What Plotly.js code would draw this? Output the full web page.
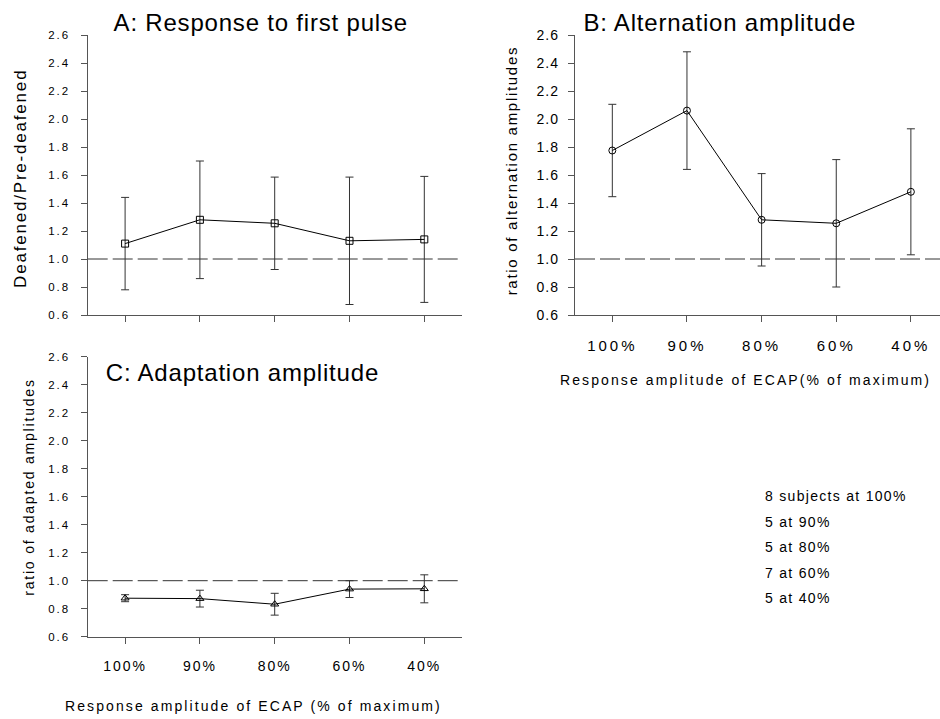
<!DOCTYPE html>
<html>
<head>
<meta charset="utf-8">
<script src="https://cdn.plot.ly/plotly-3.0.1.min.js"></script>
<style>
  html, body { margin: 0; padding: 0; background: #fff; }
  #chart { width: 940px; height: 719px; }
  /* spaced-out lettering of the figure text */
  g.annotation[data-index="0"] text,
  g.annotation[data-index="1"] text,
  g.annotation[data-index="2"] text { letter-spacing: 0.8px; }
  g.annotation[data-index="3"] text { letter-spacing: 1.8px; }
  g.annotation[data-index="4"] text { letter-spacing: 1.7px; }
  g.annotation[data-index="5"] text { letter-spacing: 1.8px; }
  g.annotation[data-index="6"] text { letter-spacing: 2.1px; }
  g.annotation[data-index="7"] text { letter-spacing: 2.1px; }
  g.annotation[data-index="8"] text,
  g.annotation[data-index="9"] text,
  g.annotation[data-index="10"] text,
  g.annotation[data-index="11"] text,
  g.annotation[data-index="12"] text { letter-spacing: 1.3px; }
  .ytick text, .y3tick text { letter-spacing: 2px; }
  .y2tick text { letter-spacing: 1px; }
  .x2tick text { letter-spacing: 3px; }
  .x3tick text { letter-spacing: 2px; }
</style>
</head>
<body>
<div id="chart"></div>
<script>
// ECAP response level (% of maximum amplitude)
const categories = ['100%', '90%', '80%', '60%', '40%'];

// A: deafened / pre-deafened response to the first pulse
const responseMean = [1.11, 1.28, 1.255, 1.13, 1.14];
const responseErr  = [0.33, 0.42, 0.33, 0.455, 0.45];

// B: ratio of alternation amplitudes
const alternationMean = [1.775, 2.06, 1.28, 1.255, 1.48];
const alternationErr  = [0.33, 0.42, 0.33, 0.455, 0.45];

// C: ratio of adapted amplitudes
const adaptationMean = [0.875, 0.872, 0.832, 0.94, 0.942];
const adaptationErr  = [0.025, 0.06, 0.078, 0.06, 0.1];

// number of subjects behind each level
const subjectCounts = ['8 subjects at 100%', '5 at 90%', '5 at 80%', '7 at 60%', '5 at 40%'];

const W = 940, H = 719;
const px = x => x / W;
const py = y => 1 - y / H;

const FONT = '"Liberation Sans", Arial, Helvetica, sans-serif';
const INK = '#000';
const xIdx = categories.map((_, i) => i);

function series(mean, err, symbol, xa, ya) {
  return {
    type: 'scatter', mode: 'lines+markers',
    x: xIdx, y: mean, xaxis: xa, yaxis: ya,
    line: { color: INK, width: 1 },
    marker: { symbol: symbol, size: 7, color: INK, line: { color: INK, width: 1 } },
    error_y: { type: 'data', array: err, visible: true, color: '#333', thickness: 1, width: 4 },
    cliponaxis: false, showlegend: false, hoverinfo: 'skip'
  };
}

const data = [
  series(responseMean, responseErr, 'square-open', 'x', 'y'),
  series(alternationMean, alternationErr, 'circle-open', 'x2', 'y2'),
  series(adaptationMean, adaptationErr, 'triangle-up-open', 'x3', 'y3')
];

function yAx(domain, fontSize, standoff) {
  return {
    domain: domain, range: [0.6, 2.6], tick0: 0.6, dtick: 0.2, tickformat: '.1f',
    showgrid: false, zeroline: false, showline: true, linecolor: '#555', linewidth: 1.2,
    ticks: 'outside', ticklen: 6, tickcolor: '#555', tickwidth: 1,
    ticklabelstandoff: standoff,
    tickfont: { family: FONT, size: fontSize, color: INK }, fixedrange: true
  };
}
function xAx(domain, range, showLabels, fontSize, standoff) {
  return {
    domain: domain, range: range,
    tickmode: 'array', tickvals: xIdx, ticktext: categories, showticklabels: showLabels,
    showgrid: false, zeroline: false, showline: true, linecolor: '#555', linewidth: 1.2,
    ticks: 'outside', ticklen: 6, tickcolor: '#555', tickwidth: 1,
    ticklabelstandoff: standoff,
    tickfont: { family: FONT, size: fontSize, color: INK }, fixedrange: true
  };
}

const leftDom = [px(87.7), px(461.7)];
const rightDom = [px(575), 1];
const topDom = [py(315), py(35)];
const botDom = [py(636.7), py(356.7)];

function refLine(xref, yref) {
  return {
    type: 'line', xref: xref + ' domain', yref: yref,
    x0: 0, x1: 1, y0: 1, y1: 1,
    line: { color: '#333', width: 1, dash: '20px,5px' }
  };
}

function note(text, x, y, size, opts) {
  return Object.assign({
    text: text, xref: 'paper', yref: 'paper', x: px(x), y: py(y),
    xanchor: 'center', yanchor: 'middle', showarrow: false,
    font: { family: FONT, size: size, color: INK }
  }, opts || {});
}

const annotations = [
  note('A: Response to first pulse', 260.5, 22, 24),
  note('B: Alternation amplitude', 720, 22, 24),
  note('C: Adaptation amplitude', 242.5, 372, 24),
  note('Deafened/Pre-deafened', 21, 179, 17, { textangle: -90 }),
  note('ratio of alternation amplitudes', 511, 171, 15, { textangle: -90 }),
  note('ratio of adapted amplitudes', 28, 487.5, 14, { textangle: -90 }),
  note('Response amplitude of ECAP(% of maximum)', 745, 380, 14),
  note('Response amplitude of ECAP (% of maximum)', 253, 706, 14)
];
subjectCounts.forEach((t, i) => {
  annotations.push(note(t, 763, 496 + i * 25.5, 14, { xanchor: 'left', align: 'left' }));
});

const layout = {
  width: W, height: H,
  margin: { l: 0, r: 0, t: 0, b: 0, pad: 0 },
  paper_bgcolor: '#fff', plot_bgcolor: 'rgba(0,0,0,0)',
  showlegend: false,
  font: { family: FONT, color: INK },
  xaxis:  Object.assign(xAx(leftDom, [-0.5, 4.5], false, 15, 14), { anchor: 'y' }),
  yaxis:  Object.assign(yAx(topDom, 11.5, 8), { anchor: 'x' }),
  xaxis2: Object.assign(xAx(rightDom, [-0.5, 4.39], true, 15, 11), { anchor: 'y2' }),
  yaxis2: Object.assign(yAx(topDom, 14, 6), { anchor: 'x2' }),
  xaxis3: Object.assign(xAx(leftDom, [-0.5, 4.5], true, 14, 10), { anchor: 'y3' }),
  yaxis3: Object.assign(yAx(botDom, 11.5, 8), { anchor: 'x3' }),
  shapes: [refLine('x', 'y'), refLine('x2', 'y2'), refLine('x3', 'y3')],
  annotations: annotations
};

Plotly.newPlot('chart', data, layout, { displayModeBar: false, staticPlot: true });
</script>
</body>
</html>
